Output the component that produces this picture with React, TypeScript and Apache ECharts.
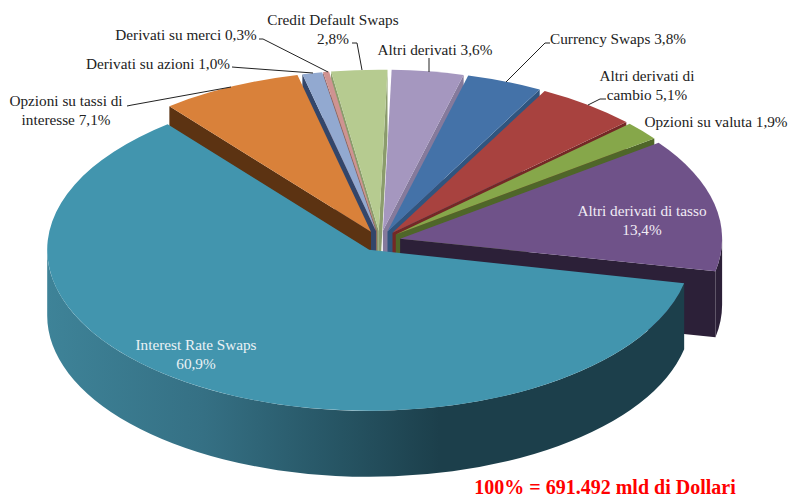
import React, { useEffect, useRef } from "react";
import * as echarts from "echarts";

const categories = [
  "Interest Rate Swaps",
  "Opzioni su tassi di interesse",
  "Derivati su azioni",
  "Derivati su merci",
  "Credit Default Swaps",
  "Altri derivati",
  "Currency Swaps",
  "Altri derivati di cambio",
  "Opzioni su valuta",
  "Altri derivati di tasso",
];
const values = [60.9, 7.1, 1.0, 0.3, 2.8, 3.6, 3.8, 5.1, 1.9, 13.4];
const topColors = ["#4295AE", "#D9813A", "#92A9D0", "#CF9391", "#B6CB90", "#A597BF", "#4472A8", "#A8423F", "#86A74A", "#6F5289"];
const sideColors = ["#1C3F4B", "#5C3312", "#33466A", "#8E5E5C", "#8B9C6C", "#857A9C", "#30557F", "#742826", "#4F6629", "#2C2038"];
const labelTexts = [
  "Interest Rate Swaps\n60,9%",
  "Opzioni su tassi di\ninteresse 7,1%",
  "Derivati su azioni 1,0%",
  "Derivati su merci 0,3%",
  "Credit Default Swaps\n2,8%",
  "Altri derivati 3,6%",
  "Currency Swaps 3,8%",
  "Altri derivati di\ncambio 5,1%",
  "Opzioni su valuta 1,9%",
  "Altri derivati di tasso\n13,4%",
];
const footer = "100% = 691.492 mld di Dollari";

// Geometry of the tilted pie
const CX = 380;
const CY = 241;
const RX = 322;
const RY = 161;
const DEPTH = 66;
const EXPLODE = 20.6;
const START = 102;

const labelPos: [number, number, string][] = [
  [196, 354, "#EAF2F5"],
  [66, 110, "#222"],
  [158, 63, "#222"],
  [186, 34, "#222"],
  [333, 29, "#222"],
  [435, 49, "#222"],
  [618, 38, "#222"],
  [647, 85, "#222"],
  [716, 121, "#222"],
  [642, 220, "#F1ECF5"],
];
const leaders: number[][][] = [
  [[127, 106], [132, 105], [231, 87]],
  [[232, 67], [238, 67.5], [313, 73]],
  [[259, 39], [263, 39], [328, 72]],
  [[352, 43], [357, 43], [362, 70]],
  [[429, 58], [429, 72]],
  [[550, 43], [545, 43], [506, 82]],
  [[606, 99], [600, 99], [588, 105]],
];

const rad = (d: number) => (d * Math.PI) / 180;

function buildData() {
  let a = START;
  const items = values.map((v, i) => {
    const a1 = a;
    const a2 = a + (v / 100) * 360;
    a = a2;
    return { name: categories[i], value: [v, a1, a2, i] };
  });
  // painter's order: slices pushed furthest back are drawn first
  return items.sort((p, q) => {
    const mp = (p.value[1] + p.value[2]) / 2;
    const mq = (q.value[1] + q.value[2]) / 2;
    return Math.cos(rad(mq)) - Math.cos(rad(mp));
  });
}

function renderSlice(_: any, api: any) {
  const a1 = api.value(1) as number;
  const a2 = api.value(2) as number;
  const i = api.value(3) as number;
  const mid = rad((a1 + a2) / 2);
  const ox = CX + EXPLODE * Math.sin(mid);
  const oy = CY - (EXPLODE * Math.cos(mid) * RY) / RX;
  const pt = (d: number, dz = 0) => [ox + RX * Math.sin(rad(d)), oy - RY * Math.cos(rad(d)) + dz];
  const arc = (to: number[], large: boolean, sweep: number) =>
    `A${RX} ${RY} 0 ${large ? 1 : 0} ${sweep} ${to[0]} ${to[1]}`;

  const children: any[] = [];
  const face = (d: number) => {
    const p = pt(d);
    const q = pt(d, DEPTH);
    children.push({
      type: "polygon",
      shape: { points: [[ox, oy], p, q, [ox, oy + DEPTH]] },
      style: { fill: sideColors[i] },
    });
  };
  const norm = (d: number) => ((d % 360) + 360) % 360;
  if (norm(a1) > 180) face(a1);
  if (norm(a2) < 180) face(a2);

  let rs = -1;
  let re = -1;
  if (a2 > 450) {
    rs = Math.max(a1, 450);
    re = a2;
  } else if (a1 < 270 && a2 > 90) {
    rs = Math.max(a1, 90);
    re = Math.min(a2, 270);
  }
  if (rs >= 0) {
    const p = pt(rs);
    const q = pt(re);
    const qd = pt(re, DEPTH);
    const pd = pt(rs, DEPTH);
    const large = re - rs > 180;
    const fill =
      i === 0
        ? new echarts.graphic.LinearGradient(
            46, 0, 440, 0,
            [
              { offset: 0, color: "#3E8398" },
              { offset: 0.4, color: "#357084" },
              { offset: 0.75, color: "#265463" },
              { offset: 1, color: sideColors[0] },
            ],
            true
          )
        : sideColors[i];
    children.push({
      type: "path",
      shape: {
        pathData: `M${p[0]} ${p[1]}${arc(q, large, 1)}L${qd[0]} ${qd[1]}${arc(pd, large, 0)}Z`,
      },
      style: { fill },
    });
  }

  const s = pt(a1);
  const e = pt(a2);
  children.push({
    type: "path",
    shape: { pathData: `M${ox} ${oy}L${s[0]} ${s[1]}${arc(e, a2 - a1 > 180, 1)}Z` },
    style: { fill: topColors[i] },
  });
  return { type: "group", children };
}

export default function App() {
  const ref = useRef<HTMLDivElement>(null);
  useEffect(() => {
    const chart = echarts.init(ref.current!, undefined, { renderer: "svg" });
    const FONT = '15.25px "Liberation Serif", serif';
    const texts = labelTexts.map((t, i) => ({
      type: "text",
      z: 100,
      style: {
        text: t,
        x: labelPos[i][0],
        y: labelPos[i][1],
        fill: labelPos[i][2],
        font: FONT,
        align: "center",
        verticalAlign: "middle",
        textAlign: "center",
        textVerticalAlign: "middle",
        lineHeight: 18.5,
      },
    }));
    const lines = leaders.map((pts) => ({
      type: "polyline",
      z: 99,
      shape: { points: pts },
      style: { stroke: "#222", lineWidth: 1, fill: "none" },
    }));
    chart.setOption({
      animation: false,
      backgroundColor: "#fff",
      graphic: [
        ...lines,
        ...texts,
        {
          type: "text",
          z: 100,
          style: {
            text: footer,
            x: 605,
            y: 487,
            fill: "#FF0000",
            font: 'bold 20px "Liberation Serif", serif',
            align: "center",
            verticalAlign: "middle",
            textAlign: "center",
            textVerticalAlign: "middle",
          },
        },
      ],
      series: [
        {
          type: "custom",
          coordinateSystem: "none",
          renderItem: renderSlice,
          data: buildData(),
          silent: true,
        },
      ],
    });
    return () => chart.dispose();
  }, []);
  return <div ref={ref} style={{ position: "fixed", left: 0, top: 0, width: 789, height: 499 }} />;
}
